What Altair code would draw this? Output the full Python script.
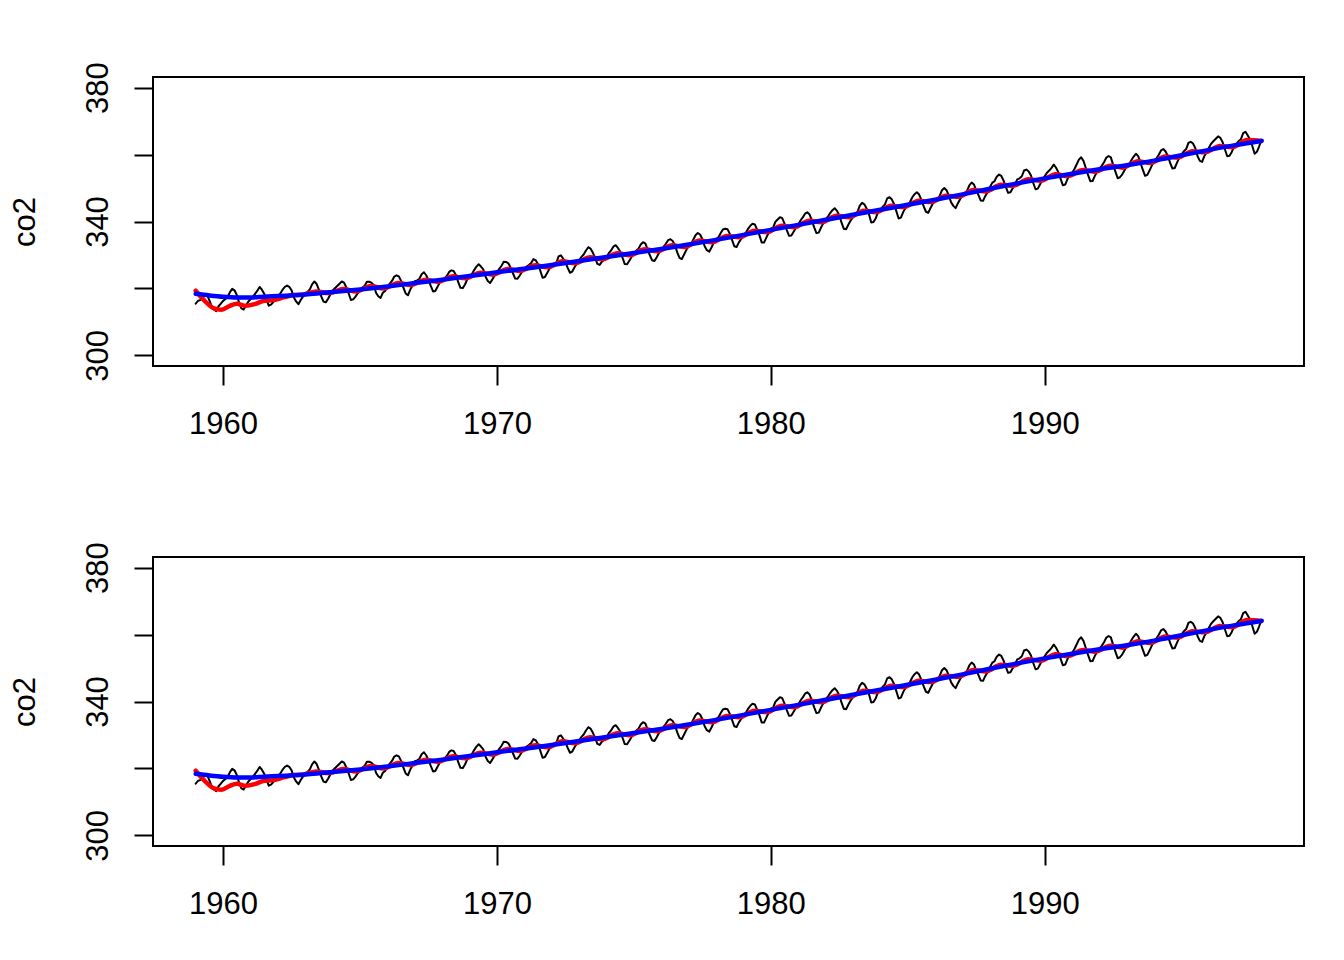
import altair as alt
import pandas as pd

# Monthly CO2 concentrations (ppm), Mauna Loa, Jan 1959 - Dec 1997
start_year = 1959
co2_monthly = [
    315.42, 316.31, 316.50, 317.56, 318.13, 318.00, 316.39, 314.65, 313.68, 313.18, 314.66, 315.43,  # 1959
    316.27, 316.81, 317.42, 318.87, 319.87, 319.43, 318.01, 315.74, 314.00, 313.68, 314.84, 316.03,  # 1960
    316.73, 317.54, 318.38, 319.31, 320.42, 319.61, 318.42, 316.63, 314.83, 315.16, 315.94, 316.85,  # 1961
    317.78, 318.40, 319.53, 320.42, 320.85, 320.45, 319.45, 317.25, 316.11, 315.27, 316.53, 317.53,  # 1962
    318.58, 318.92, 319.70, 321.22, 322.08, 321.31, 319.58, 317.61, 316.05, 315.83, 316.91, 318.20,  # 1963
    319.41, 320.07, 320.74, 321.40, 322.06, 321.73, 320.27, 318.54, 316.54, 316.71, 317.53, 318.55,  # 1964
    319.27, 320.28, 320.73, 321.97, 322.00, 321.71, 321.05, 318.71, 317.66, 317.14, 318.70, 319.25,  # 1965
    320.46, 321.43, 322.23, 323.54, 323.91, 323.59, 322.24, 320.20, 318.48, 317.94, 319.63, 320.87,  # 1966
    322.17, 322.34, 322.88, 324.25, 324.83, 323.93, 322.38, 320.76, 319.10, 319.24, 320.56, 321.80,  # 1967
    322.40, 322.99, 323.73, 324.86, 325.40, 325.20, 323.98, 321.95, 320.18, 320.09, 321.16, 322.74,  # 1968
    323.83, 324.26, 325.47, 326.50, 327.21, 326.54, 325.72, 323.50, 322.22, 321.62, 322.69, 323.95,  # 1969
    324.89, 325.82, 326.77, 327.97, 327.91, 327.50, 326.18, 324.53, 322.93, 322.90, 323.85, 324.96,  # 1970
    326.01, 326.51, 327.01, 327.62, 328.76, 328.40, 327.20, 325.27, 323.20, 323.40, 324.63, 325.85,  # 1971
    326.60, 327.47, 327.58, 329.56, 329.90, 328.92, 327.88, 326.16, 324.68, 325.04, 326.34, 327.39,  # 1972
    328.37, 329.40, 330.14, 331.33, 332.31, 331.90, 330.70, 329.15, 327.35, 327.02, 327.99, 328.48,  # 1973
    329.18, 330.55, 331.32, 332.48, 332.92, 332.08, 331.01, 329.23, 327.27, 327.21, 328.29, 329.41,  # 1974
    330.23, 331.25, 331.87, 333.14, 333.80, 333.43, 331.73, 329.90, 328.40, 328.17, 329.32, 330.59,  # 1975
    331.58, 332.39, 333.33, 334.41, 334.71, 334.17, 332.89, 330.77, 329.14, 328.78, 330.14, 331.52,  # 1976
    332.75, 333.24, 334.53, 335.90, 336.57, 336.10, 334.76, 332.59, 331.42, 330.98, 332.24, 333.68,  # 1977
    334.80, 335.22, 336.47, 337.59, 337.84, 337.72, 336.37, 334.51, 332.60, 332.38, 333.75, 334.78,  # 1978
    336.05, 336.59, 337.79, 338.71, 339.30, 339.12, 337.56, 335.92, 333.75, 333.70, 335.12, 336.56,  # 1979
    337.84, 338.19, 339.91, 340.60, 341.29, 341.00, 339.39, 337.43, 335.72, 335.84, 336.93, 338.04,  # 1980
    339.06, 340.30, 341.21, 342.33, 342.74, 342.08, 340.32, 338.26, 336.52, 336.68, 338.19, 339.44,  # 1981
    340.57, 341.44, 342.53, 343.39, 343.96, 343.18, 341.88, 339.65, 337.81, 337.69, 339.09, 340.32,  # 1982
    341.20, 342.35, 342.93, 344.77, 345.58, 345.14, 343.81, 342.21, 339.69, 339.82, 340.98, 342.82,  # 1983
    343.52, 344.33, 345.11, 346.88, 347.25, 346.62, 345.22, 343.11, 340.90, 341.18, 342.80, 344.04,  # 1984
    344.79, 345.82, 347.25, 348.17, 348.74, 348.07, 346.38, 344.51, 342.92, 342.62, 344.06, 345.38,  # 1985
    346.11, 346.78, 347.68, 349.37, 350.03, 349.37, 347.76, 345.73, 344.68, 343.99, 345.48, 346.72,  # 1986
    347.84, 348.29, 349.23, 350.80, 351.66, 351.07, 349.33, 347.92, 346.27, 346.18, 347.64, 348.78,  # 1987
    350.25, 351.54, 352.05, 353.41, 354.04, 353.62, 352.22, 350.27, 348.55, 348.72, 349.91, 351.18,  # 1988
    352.60, 352.92, 353.53, 355.26, 355.52, 354.97, 353.75, 351.52, 349.64, 349.83, 351.14, 352.37,  # 1989
    353.50, 354.55, 355.23, 356.04, 357.00, 356.07, 354.67, 352.76, 350.82, 351.04, 352.69, 354.07,  # 1990
    354.59, 355.63, 357.03, 358.48, 359.22, 358.12, 356.06, 353.92, 352.05, 352.11, 353.64, 354.89,  # 1991
    355.88, 356.63, 357.72, 359.07, 359.58, 359.17, 356.94, 354.92, 352.94, 353.23, 354.09, 355.33,  # 1992
    356.63, 357.10, 358.32, 359.41, 360.23, 359.55, 357.53, 355.48, 353.67, 353.95, 355.30, 356.78,  # 1993
    358.34, 358.89, 359.95, 361.25, 361.67, 360.94, 359.55, 357.49, 355.84, 356.00, 357.59, 359.05,  # 1994
    359.98, 361.03, 361.66, 363.48, 363.82, 363.30, 361.94, 359.50, 358.11, 357.80, 359.61, 360.74,  # 1995
    362.09, 363.29, 364.06, 364.76, 365.45, 365.01, 363.70, 361.54, 359.51, 359.65, 360.80, 362.38,  # 1996
    363.23, 364.06, 364.61, 366.40, 366.84, 365.68, 364.52, 362.57, 360.24, 360.83, 362.49, 364.34,  # 1997
]

# Red smoother
red_t = [1959.0, 1959.3, 1959.67, 1959.92, 1960.25, 1960.5, 1960.83, 1961.15, 1961.5, 1961.85,
         1962.2, 1962.6, 1962.95, 1963.4, 1963.85,
         1964.4, 1964.85, 1965.4, 1965.85, 1966.4, 1966.85, 1967.4, 1967.85, 1968.4, 1968.85,
         1969.4, 1969.85, 1970.4, 1970.85, 1971.4, 1971.85, 1972.4, 1972.85, 1973.4, 1973.85,
         1974.4, 1974.85, 1975.4, 1975.85, 1976.4, 1976.85, 1977.4, 1977.85, 1978.4, 1978.85,
         1979.4, 1979.85, 1980.4, 1980.85, 1981.4, 1981.85, 1982.4, 1982.85, 1983.4, 1983.85,
         1984.4, 1984.85, 1985.4, 1985.85, 1986.4, 1986.85, 1987.4, 1987.85, 1988.4, 1988.85,
         1989.4, 1989.85, 1990.4, 1990.85, 1991.4, 1991.85, 1992.4, 1992.85, 1993.4, 1993.85,
         1994.4, 1994.85, 1995.4, 1995.85, 1996.4, 1996.85, 1997.4, 1997.92]
red_v = [319.3, 316.5, 314.0, 313.6, 314.8, 315.4, 314.8, 315.3, 316.3, 316.5,
         317.3, 318.0, 318.2, 319.1, 318.6,
         319.8, 319.1, 320.7, 320.0, 321.6, 321.0, 322.6, 322.0, 323.6, 323.0,
         324.7, 324.1, 325.8, 325.2, 326.9, 326.3, 328.1, 327.5, 329.3, 328.7,
         330.5, 329.9, 331.7, 331.1, 332.9, 332.4, 334.3, 333.8, 335.7, 335.3,
         337.2, 336.8, 338.7, 338.3, 340.2, 339.8, 341.7, 341.3, 343.2, 342.8,
         344.7, 344.3, 346.2, 345.8, 347.7, 347.4, 349.4, 349.0, 351.0, 350.7,
         352.6, 352.2, 354.1, 353.6, 355.4, 354.9, 356.7, 356.1, 358.0, 357.5,
         359.4, 359.1, 361.0, 360.7, 362.6, 362.2, 364.4, 364.1]

# Blue smoother
blue_t = [1959.0, 1959.5, 1960.0, 1960.5, 1961.0, 1961.5, 1962.0, 1963.0, 1964.0, 1965.0,
          1966.0, 1967.0, 1968.0, 1969.0, 1970.0, 1971.0, 1972.0, 1973.0, 1974.0, 1975.0,
          1976.0, 1977.0, 1978.0, 1979.0, 1980.0, 1981.0, 1982.0, 1983.0, 1984.0, 1985.0,
          1986.0, 1987.0, 1988.0, 1989.0, 1990.0, 1991.0, 1992.0, 1993.0, 1994.0, 1995.0,
          1996.0, 1997.0, 1997.92]
blue_v = [318.4, 317.9, 317.5, 317.3, 317.3, 317.5, 317.7, 318.2, 318.9, 319.7,
          320.6, 321.6, 322.6, 323.7, 324.8, 325.9, 327.0, 328.2, 329.4, 330.6,
          331.8, 333.1, 334.5, 336.0, 337.5, 339.0, 340.5, 342.0, 343.5, 345.0,
          346.5, 348.1, 349.8, 351.4, 352.9, 354.3, 355.6, 356.8, 358.2, 359.8,
          361.4, 362.9, 364.1]

x_ticks = [1960, 1970, 1980, 1990]
y_ticks = [300, 320, 340, 360, 380]

black_df = pd.DataFrame({"t": [start_year + i / 12 for i in range(len(co2_monthly))], "v": co2_monthly})
red_df = pd.DataFrame({"t": red_t, "v": red_v})
blue_df = pd.DataFrame({"t": blue_t, "v": blue_v})

FONT = "Liberation Sans"

x_axis = alt.Axis(values=x_ticks, format="d", tickSize=19, tickWidth=2, tickColor="black",
                  labelFontSize=31, labelFont=FONT, labelColor="black", labelBaseline="alphabetic",
                  labelPadding=48, domain=False, grid=False, labelOverlap=False, labelFlush=False,
                  title=None)
y_axis = alt.Axis(values=y_ticks, labelExpr="(datum.value - 300) % 40 == 0 ? datum.label : ''",
                  tickSize=19, tickWidth=2, tickColor="black",
                  labelFontSize=31, labelFont=FONT, labelColor="black", labelAngle=270,
                  labelAlign="center", labelBaseline="alphabetic", labelPadding=27,
                  domain=False, grid=False, labelOverlap=False, labelFlush=False,
                  title="co2", titleFontSize=31, titleFont=FONT, titleFontWeight="normal",
                  titleColor="black", titleAngle=270, titleAlign="center",
                  titleBaseline="alphabetic", titleX=-119, titleY=144.5)

x_scale = alt.Scale(domain=[1957.44, 1999.47], nice=False, zero=False)
y_scale = alt.Scale(domain=[296.8, 383.2], nice=False, zero=False)


def panel():
    enc = dict(x=alt.X("t:Q", scale=x_scale, axis=x_axis),
               y=alt.Y("v:Q", scale=y_scale, axis=y_axis))
    black = alt.Chart(black_df).mark_line(color="black", strokeWidth=2, strokeCap="round",
                                          strokeJoin="round").encode(**enc)
    red = alt.Chart(red_df).mark_line(color="#FF0000", strokeWidth=4.5, strokeCap="round",
                                      interpolate="monotone").encode(**enc)
    blue = alt.Chart(blue_df).mark_line(color="#0000FF", strokeWidth=4.5, strokeCap="round",
                                        interpolate="monotone").encode(**enc)
    return alt.layer(black, red, blue).properties(width=1151, height=289)


chart = alt.vconcat(panel(), panel(), spacing=191, bounds="flush").properties(
    padding={"left": 0, "top": 52, "right": 20, "bottom": 20}
).configure_view(stroke="black", strokeWidth=2)

chart.save("out.html", embed_options={"renderer": "svg", "actions": False})
